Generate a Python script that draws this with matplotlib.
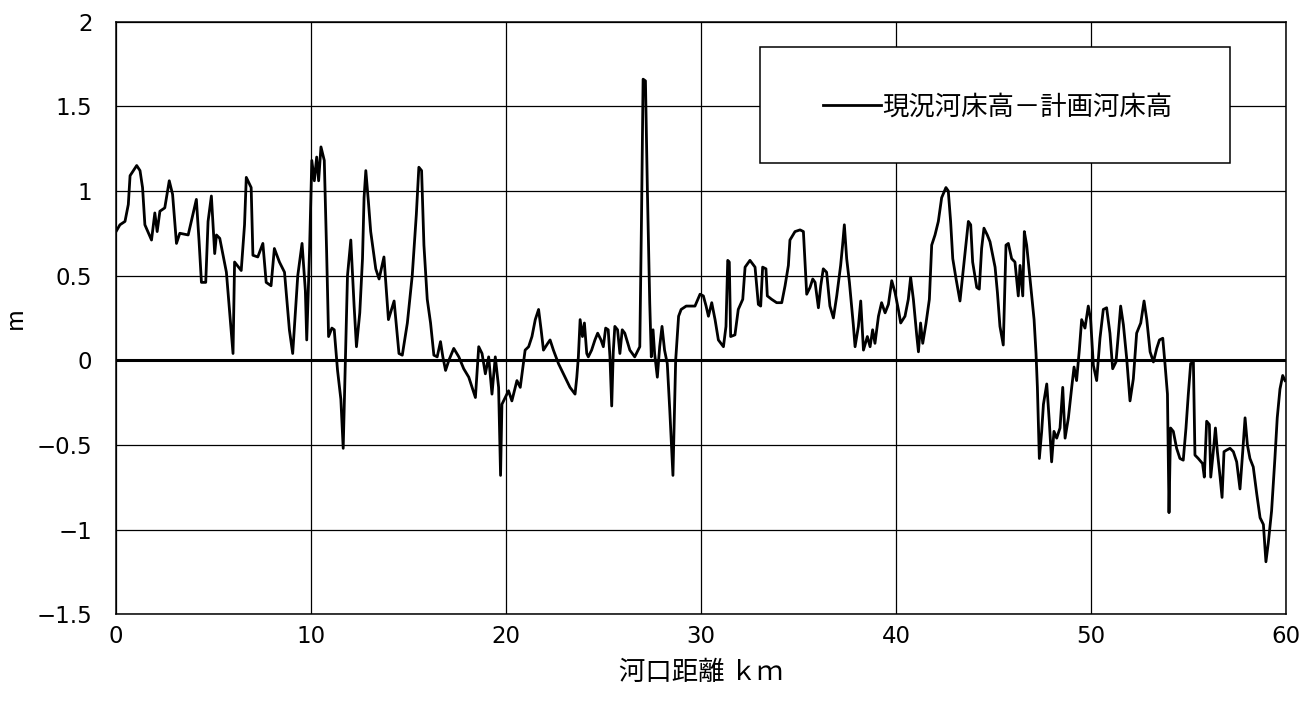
import matplotlib
matplotlib.use('Agg')
import matplotlib.pyplot as plt
from matplotlib.patches import Rectangle

# distance from river mouth (km)
KM = [
    0.00, 0.20, 0.46, 0.63, 0.72, 1.06, 1.23, 1.36, 1.48, 1.82, 1.99, 2.11, 2.25, 2.50,
    2.73, 2.90, 3.10, 3.27, 3.70, 4.12, 4.26, 4.38, 4.60, 4.72, 4.89, 5.06, 5.15, 5.32,
    5.66, 6.00, 6.08, 6.42, 6.59, 6.68, 6.93, 7.02, 7.27, 7.53, 7.70, 7.95, 8.12, 8.38,
    8.64, 8.89, 9.06, 9.32, 9.54, 9.71, 9.78, 9.92,
    10.04, 10.17, 10.29, 10.39, 10.51, 10.68, 10.80, 10.90, 11.07, 11.19, 11.36, 11.53,
    11.65, 11.79, 11.87, 12.04, 12.21, 12.33, 12.50, 12.64, 12.72, 12.81, 12.94, 13.06,
    13.32, 13.49, 13.74, 13.86, 13.97, 14.26, 14.51, 14.68, 14.94, 15.19, 15.40, 15.53,
    15.67, 15.79, 15.96, 16.13, 16.30, 16.47, 16.64, 16.76, 16.90, 17.07, 17.32, 17.58,
    17.83, 18.09, 18.43, 18.60, 18.77, 18.94, 19.11, 19.28, 19.45, 19.62, 19.72, 19.79,
    20.13, 20.30, 20.56, 20.73, 20.98, 21.16, 21.33, 21.50, 21.67, 21.80, 21.92, 22.14,
    22.26, 22.43, 22.69, 23.03, 23.28, 23.54, 23.63, 23.71, 23.80, 23.92, 24.02, 24.14,
    24.22, 24.39, 24.56, 24.70, 24.87, 24.99, 25.11, 25.24, 25.33, 25.42, 25.50, 25.58,
    25.72, 25.84, 25.96, 26.09, 26.35, 26.60, 26.86, 26.95, 27.03, 27.15, 27.25, 27.37,
    27.45, 27.54, 27.62, 27.76, 27.88, 28.00, 28.13, 28.27, 28.40, 28.56, 28.70, 28.85,
    28.98, 29.24, 29.49, 29.69, 29.95,
    30.12, 30.26, 30.38, 30.55, 30.72, 30.89, 31.15, 31.28, 31.37, 31.45, 31.52, 31.74,
    31.91, 32.14, 32.26, 32.51, 32.77, 32.94, 33.06, 33.16, 33.33, 33.40, 33.62, 33.88,
    34.14, 34.31, 34.48, 34.56, 34.82, 35.08, 35.25, 35.33, 35.42, 35.59, 35.73, 35.85,
    36.02, 36.14, 36.27, 36.44, 36.61, 36.79, 36.96, 37.16, 37.26, 37.35, 37.47, 37.61,
    37.81, 37.90, 38.07, 38.19, 38.33, 38.53, 38.67, 38.80, 38.92, 39.10, 39.26, 39.44,
    39.61, 39.78, 39.95,
    40.12, 40.24, 40.46, 40.63, 40.75, 40.89, 41.06, 41.15, 41.26, 41.37, 41.54, 41.71,
    41.83, 42.00, 42.17, 42.34, 42.56, 42.68, 42.80, 42.91, 43.08, 43.28, 43.49, 43.71,
    43.83, 43.93, 44.14, 44.27, 44.39, 44.51, 44.68, 44.82, 45.08, 45.20, 45.33, 45.50,
    45.64, 45.76, 45.93, 46.10, 46.27, 46.36, 46.50, 46.58, 46.70, 46.82, 46.96, 47.08,
    47.18, 47.25, 47.35, 47.47, 47.56, 47.73, 47.86, 47.98, 48.10, 48.24, 48.41, 48.55,
    48.67, 48.84, 49.01, 49.13, 49.26, 49.40, 49.52, 49.69, 49.86, 49.98,
    50.12, 50.29, 50.46, 50.63, 50.80, 50.97, 51.11, 51.28, 51.40, 51.52, 51.66, 51.83,
    52.00, 52.17, 52.34, 52.55, 52.72, 52.86, 53.03, 53.20, 53.37, 53.51, 53.68, 53.80,
    53.92, 54.00, 54.08, 54.22, 54.39, 54.56, 54.73, 54.87, 54.99, 55.11, 55.25, 55.33,
    55.50, 55.72, 55.81, 55.93, 56.07, 56.14, 56.27, 56.38, 56.48, 56.62, 56.72, 56.82,
    56.96, 57.13, 57.30, 57.47, 57.64, 57.78, 57.90, 58.02, 58.15, 58.32, 58.50, 58.67,
    58.84, 58.97, 59.09, 59.26, 59.43, 59.55, 59.69, 59.83, 59.95,
]

# current riverbed height minus planned riverbed height (m)
DIFF = [
    0.76, 0.80, 0.82, 0.92, 1.09, 1.15, 1.12, 1.02, 0.80, 0.71, 0.87, 0.76, 0.88, 0.90,
    1.06, 0.98, 0.69, 0.75, 0.74, 0.95, 0.70, 0.46, 0.46, 0.82, 0.97, 0.63, 0.74, 0.72,
    0.52, 0.04, 0.58, 0.53, 0.80, 1.08, 1.02, 0.62, 0.61, 0.69, 0.46, 0.44, 0.66, 0.58,
    0.52, 0.18, 0.04, 0.50, 0.69, 0.41, 0.12, 0.63,
    1.18, 1.06, 1.20, 1.06, 1.26, 1.18, 0.64, 0.14, 0.19, 0.18, -0.06, -0.23,
    -0.52, 0.12, 0.50, 0.71, 0.32, 0.08, 0.28, 0.60, 0.96, 1.12, 0.94, 0.76,
    0.54, 0.48, 0.61, 0.42, 0.24, 0.35, 0.04, 0.03, 0.22, 0.50, 0.86, 1.14,
    1.12, 0.68, 0.36, 0.22, 0.03, 0.02, 0.11, 0.02, -0.06, 0.00, 0.07, 0.02,
    -0.05, -0.10, -0.22, 0.08, 0.04, -0.08, 0.02, -0.20, 0.02, -0.16, -0.68, -0.26,
    -0.18, -0.24, -0.12, -0.16, 0.06, 0.08, 0.14, 0.24, 0.30, 0.18, 0.06, 0.10,
    0.12, 0.06, -0.02, -0.10, -0.16, -0.20, -0.10, 0.02, 0.24, 0.14, 0.22, 0.04,
    0.02, 0.06, 0.12, 0.16, 0.12, 0.08, 0.19, 0.18, 0.02, -0.27, 0.05, 0.20,
    0.18, 0.04, 0.18, 0.16, 0.06, 0.02, 0.08, 0.86, 1.66, 1.65, 1.00, 0.34,
    0.02, 0.18, 0.04, -0.10, 0.08, 0.20, 0.06, -0.02, -0.30, -0.68, 0.00, 0.26,
    0.30, 0.32, 0.32, 0.32, 0.39,
    0.38, 0.32, 0.26, 0.34, 0.24, 0.12, 0.08, 0.20, 0.59, 0.58, 0.14, 0.15,
    0.30, 0.36, 0.55, 0.59, 0.55, 0.33, 0.32, 0.55, 0.54, 0.38, 0.36, 0.34,
    0.34, 0.44, 0.56, 0.71, 0.76, 0.77, 0.76, 0.58, 0.39, 0.43, 0.48, 0.46,
    0.31, 0.44, 0.54, 0.52, 0.32, 0.25, 0.38, 0.56, 0.68, 0.80, 0.60, 0.46,
    0.21, 0.08, 0.20, 0.35, 0.06, 0.14, 0.08, 0.18, 0.10, 0.26, 0.34, 0.28,
    0.33, 0.47, 0.40,
    0.30, 0.22, 0.26, 0.36, 0.49, 0.36, 0.15, 0.05, 0.22, 0.10, 0.22, 0.36,
    0.68, 0.74, 0.82, 0.96, 1.02, 1.00, 0.82, 0.60, 0.48, 0.35, 0.58, 0.82,
    0.80, 0.58, 0.43, 0.42, 0.66, 0.78, 0.74, 0.70, 0.55, 0.40, 0.20, 0.09,
    0.68, 0.69, 0.60, 0.58, 0.38, 0.56, 0.38, 0.76, 0.68, 0.54, 0.38, 0.24,
    0.04, -0.16, -0.58, -0.42, -0.26, -0.14, -0.36, -0.60, -0.42, -0.46, -0.40, -0.16,
    -0.46, -0.34, -0.16, -0.04, -0.12, 0.06, 0.24, 0.19, 0.32, 0.24,
    -0.03, -0.12, 0.13, 0.30, 0.31, 0.16, -0.05, -0.01, 0.15, 0.32, 0.21, 0.01,
    -0.24, -0.11, 0.16, 0.22, 0.35, 0.24, 0.05, -0.01, 0.07, 0.12, 0.13, -0.03,
    -0.20, -0.90, -0.40, -0.42, -0.52, -0.58, -0.59, -0.40, -0.20, -0.02, -0.01, -0.56,
    -0.58, -0.61, -0.69, -0.36, -0.38, -0.69, -0.54, -0.40, -0.54, -0.69, -0.81, -0.54,
    -0.53, -0.52, -0.54, -0.60, -0.76, -0.54, -0.34, -0.50, -0.58, -0.63, -0.79, -0.93,
    -0.97, -1.19, -1.08, -0.89, -0.58, -0.34, -0.17, -0.09, -0.12,
]

X_TICKS = [0, 10, 20, 30, 40, 50, 60]
Y_TICKS = [-1.5, -1, -0.5, 0, 0.5, 1, 1.5, 2]
Y_LABELS = ['−1.5', '−1', '−0.5', '0', '0.5', '1', '1.5', '2']
SERIES_NAME = '現況河床高－計画河床高'
JP = ['Noto Sans CJK JP', 'DejaVu Sans']

fig = plt.figure(figsize=(13.14, 7.13), dpi=100)
ax = fig.add_axes([0.0883, 0.1385, 0.8904, 0.8312])

ax.plot(KM, DIFF, color='black', linewidth=2.0, label=SERIES_NAME, zorder=3)
ax.axhline(0, color='black', linewidth=2.2, zorder=2)

ax.set_xlim(0, 60)
ax.set_ylim(-1.5, 2)
ax.set_xticks(X_TICKS)
ax.set_yticks(Y_TICKS)
ax.set_yticklabels(Y_LABELS)
ax.grid(True, color='black', linewidth=0.9)
ax.tick_params(axis='both', length=0, labelsize=16.5)
ax.tick_params(axis='x', pad=8)
ax.tick_params(axis='y', pad=17)
for sp in ax.spines.values():
    sp.set_linewidth(1.1)

ax.set_xlabel('河口距離 ｋｍ', family=JP, fontsize=19, labelpad=8)
ax.set_ylabel('m', family=JP, fontsize=17)
ax.yaxis.set_label_coords(-0.076, 0.5)

# legend box
ax.add_patch(Rectangle((0.5504, 0.7616), 0.4017, 0.1962, transform=ax.transAxes,
                       facecolor='white', edgecolor='black', linewidth=1.1, zorder=4))
leg = ax.legend(loc='center', bbox_to_anchor=(0.7534, 0.856), frameon=False,
                handlelength=2.2, handletextpad=0.05,
                prop={'family': JP, 'size': 19})
leg.set_zorder(5)

fig.savefig('out.png', dpi=100)
